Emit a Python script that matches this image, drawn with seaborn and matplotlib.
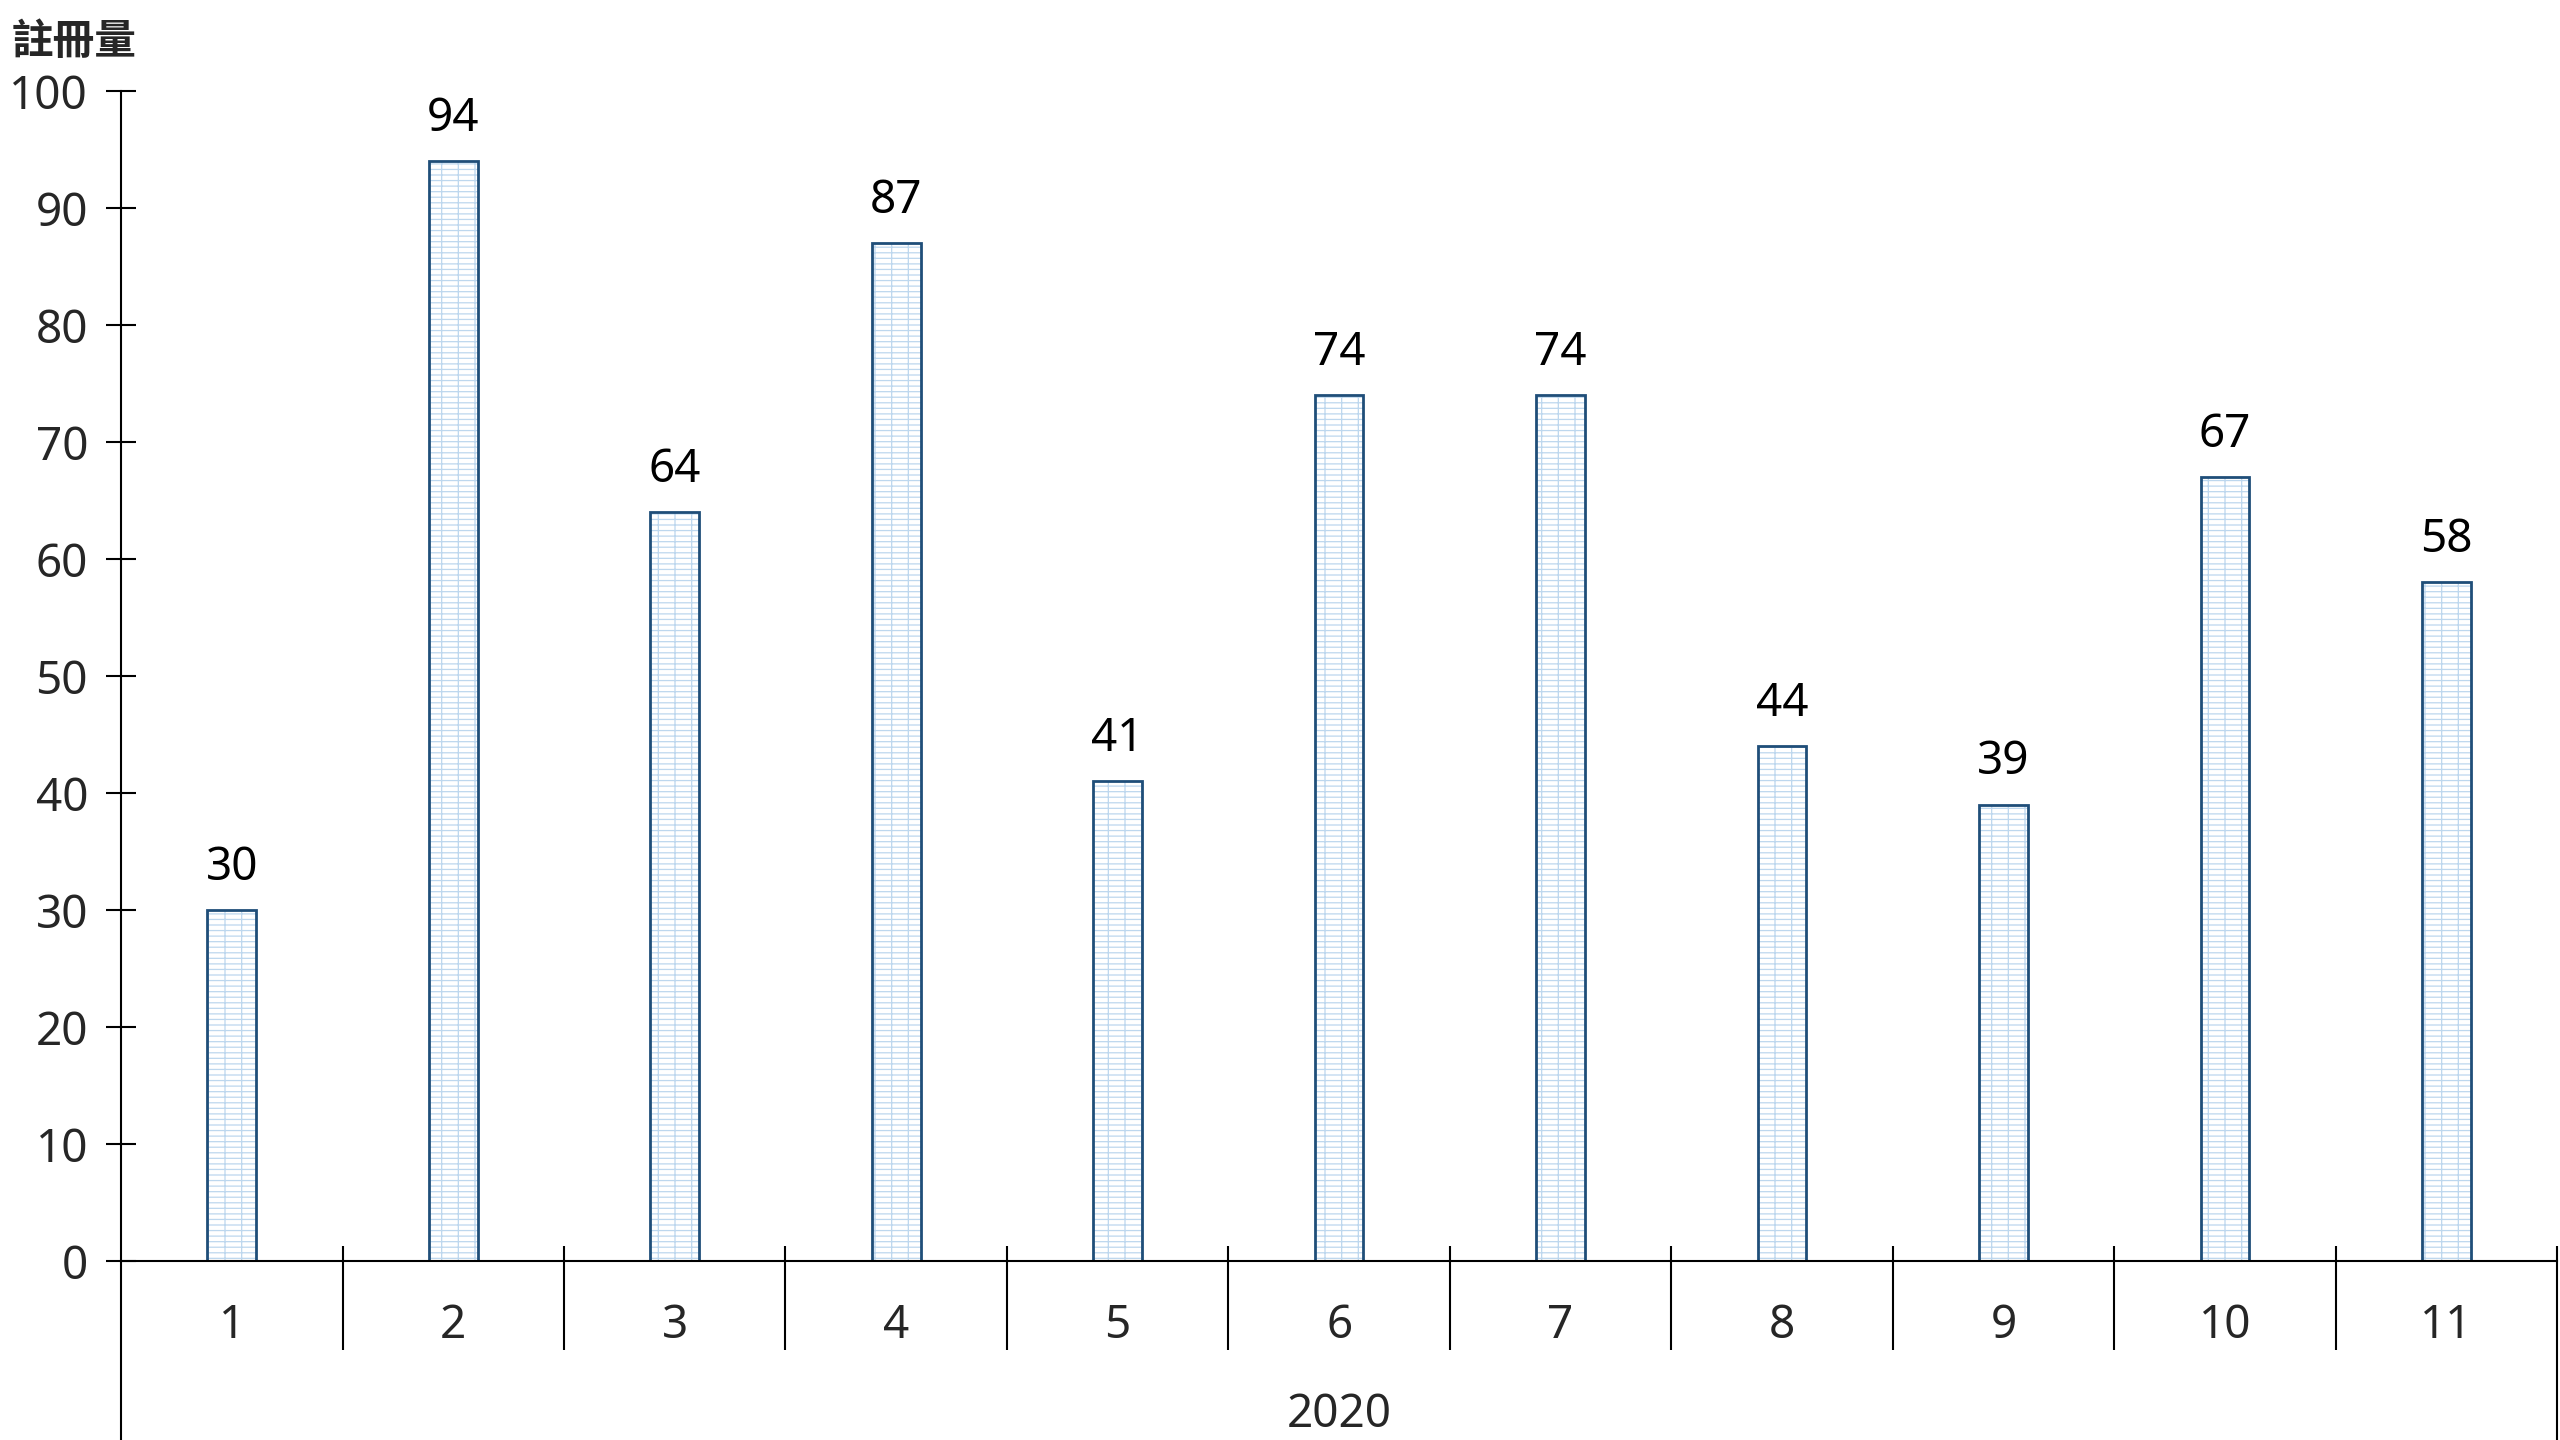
"""Monthly registrations in 2020, bar chart with brick-like hatch."""

import matplotlib.pyplot as plt
import pandas as pd
import seaborn as sns
from matplotlib.patches import Rectangle

months = ["1", "2", "3", "4", "5", "6", "7", "8", "9", "10", "11"]
registrations = [30, 94, 64, 87, 41, 74, 74, 44, 39, 67, 58]
year_label = "2020"
y_title = "註冊量"
y_ticks = list(range(0, 101, 10))

sns.set_theme(style="white")
plt.rcParams["font.family"] = ["Noto Sans", "Noto Sans CJK TC", "DejaVu Sans"]
plt.rcParams["hatch.linewidth"] = 0.9

EDGE = "#1f4e79"
HATCH = "#bdd7ee"

df = pd.DataFrame({"month": months, "count": registrations})

fig = plt.figure(figsize=(25.6, 14.4), dpi=100)
ax = fig.add_axes([0.0473, 0.1243, 0.9516, 0.8125])

# hatch pass (light blue pattern), then outline pass (dark blue)
sns.barplot(data=df, x="month", y="count", order=months, color="white",
            edgecolor=HATCH, linewidth=0, hatch="---|", width=0.22, ax=ax)
for p in list(ax.patches):
    ax.add_patch(Rectangle(p.get_xy(), p.get_width(), p.get_height(),
                           fill=False, edgecolor=EDGE, linewidth=2))

n = len(months)
ax.set_xlim(-0.5, n - 0.5)
ax.set_ylim(0, 100)
ax.set_yticks(y_ticks)

for spine in ["top", "right"]:
    ax.spines[spine].set_visible(False)
for spine in ["left", "bottom"]:
    ax.spines[spine].set_color("black")
    ax.spines[spine].set_linewidth(1.5)

ax.tick_params(axis="y", direction="inout", length=21.6, width=1.5,
               color="black", labelsize=33, pad=13, left=True)
ax.tick_params(axis="x", length=0, labelsize=33, pad=30, bottom=True)

# value labels
for i, v in enumerate(registrations):
    ax.annotate(str(v), (i, v), xytext=(0, 14), textcoords="offset points",
                ha="center", va="bottom", fontsize=33, color="black")

# category separators and extended frame lines
xt = ax.get_xaxis_transform()
ax.vlines([i + 0.5 for i in range(n - 1)], -0.076, 0.0128, transform=xt,
          colors="black", linewidth=1.5, clip_on=False)
ax.vlines([-0.5], -0.16, 0, transform=xt, colors="black",
          linewidth=1.5, clip_on=False)
ax.vlines([n - 0.5], -0.16, 0.0128, transform=xt, colors="black",
          linewidth=1.5, clip_on=False)

ax.set_xlabel(year_label, fontsize=33)
ax.xaxis.set_label_coords(0.5, -0.132)
ax.xaxis.label.set_va("center")
ax.set_ylabel("")

fig.text(12 / 2560, 1 - 42 / 1440, y_title, ha="left", va="center",
         fontsize=30, fontweight="bold", family=["Noto Sans CJK TC", "DejaVu Sans"])

fig.savefig("out.png", dpi=100)
